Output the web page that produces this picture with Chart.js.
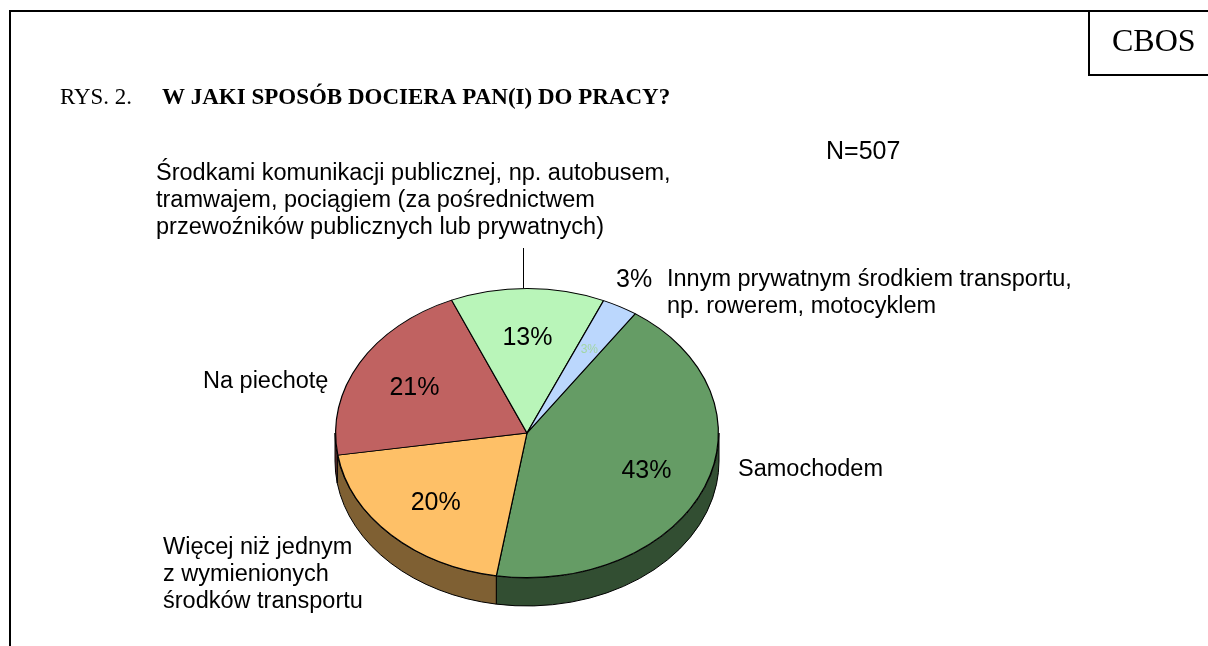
<!DOCTYPE html>
<html>
<head>
<meta charset="utf-8">
<script src="https://cdn.jsdelivr.net/npm/chart.js@4.4.1/dist/chart.umd.min.js"></script>
<style>
  html, body { margin: 0; padding: 0; background: #fff; }
  #wrap { position: relative; width: 1208px; height: 646px; }
</style>
</head>
<body>
<div id="wrap"><canvas id="chart" width="1208" height="646"></canvas></div>
<script>
// dane z rysunku
const categories = [
  'Samochodem',
  'Więcej niż jednym z wymienionych środków transportu',
  'Na piechotę',
  'Środkami komunikacji publicznej',
  'Innym prywatnym środkiem transportu'
];
const values = [43, 20, 21, 13, 3];
const valueLabels = ['43%', '20%', '21%', '13%', '3%'];
const sliceColors = ['#659c65', '#fec067', '#c06261', '#b9f5b9', '#bbd7fd'];
const sideColors = ['#324e32', '#7f6033', '#603130', '#5c7a5c', '#5e6b7e'];

const cx = 527, cy = 433, rx = 192, ry = 145, depth = 28;
const squash = ry / rx;
const labelFont = '23.5px "Liberation Sans", Arial, sans-serif';
const dy = 2; // korekta pionowa tekstu

const pie3d = {
  id: 'pie3d',
  beforeDatasetsDraw(chart) {
    const ctx = chart.ctx;
    const arcs = chart.getDatasetMeta(0).data;
    // boczna ściana (tylko przód, kąty 0..PI)
    arcs.forEach((arc, i) => {
      const a0 = Math.max(arc.startAngle, 0);
      const a1 = Math.min(arc.endAngle, Math.PI);
      const wrapA0 = Math.max(arc.startAngle - 2 * Math.PI, 0);
      const wrapA1 = Math.min(arc.endAngle - 2 * Math.PI, Math.PI);
      [[a0, a1], [wrapA0, wrapA1]].forEach(([s, e]) => {
        if (e <= s) return;
        ctx.save();
        ctx.beginPath();
        ctx.ellipse(cx, cy, rx, ry, 0, s, e, false);
        ctx.lineTo(cx + rx * Math.cos(e), cy + ry * Math.sin(e) + depth);
        ctx.ellipse(cx, cy + depth, rx, ry, 0, e, s, true);
        ctx.closePath();
        ctx.fillStyle = sideColors[i];
        ctx.fill();
        ctx.lineWidth = 1;
        ctx.strokeStyle = '#000';
        ctx.stroke();
        ctx.restore();
      });
    });
    ctx.save();
    ctx.translate(cx, cy);
    ctx.scale(1, squash);
    ctx.translate(-cx, -cy);
  },
  afterDatasetsDraw(chart) {
    const ctx = chart.ctx;
    ctx.restore();
    const arcs = chart.getDatasetMeta(0).data;
    ctx.save();
    ctx.textAlign = 'center';
    ctx.textBaseline = 'middle';
    arcs.forEach((arc, i) => {
      const mid = (arc.startAngle + arc.endAngle) / 2;
      const f = 0.67;
      const x = cx + Math.cos(mid) * rx * f;
      const y = cy + Math.sin(mid) * ry * f;
      if (values[i] < 5) {
        ctx.font = '12px "Liberation Sans", Arial, sans-serif';
        ctx.fillStyle = '#a3d6a3';
      } else {
        ctx.font = '25px "Liberation Sans", Arial, sans-serif';
        ctx.fillStyle = '#000';
      }
      ctx.fillText(valueLabels[i], x, y + dy);
    });
    ctx.restore();
  },
  afterDraw(chart) {
    const ctx = chart.ctx;
    ctx.save();
    // ramka
    ctx.strokeStyle = '#000';
    ctx.lineWidth = 2;
    ctx.beginPath();
    ctx.moveTo(10, 646);
    ctx.lineTo(10, 11);
    ctx.lineTo(1208, 11);
    ctx.stroke();
    ctx.beginPath();
    ctx.moveTo(1089, 11);
    ctx.lineTo(1089, 75);
    ctx.lineTo(1208, 75);
    ctx.stroke();

    ctx.fillStyle = '#000';
    ctx.textBaseline = 'middle';
    ctx.textAlign = 'left';
    ctx.font = '32px "Liberation Serif", "Times New Roman", serif';
    ctx.fillText('CBOS', 1112, 43);

    ctx.font = '23px "Liberation Serif", "Times New Roman", serif';
    ctx.fillText('RYS. 2.', 60, 98, 72);
    ctx.font = 'bold 23px "Liberation Serif", "Times New Roman", serif';
    ctx.fillText('W JAKI SPOSÓB DOCIERA PAN(I) DO PRACY?', 162, 98, 526);

    ctx.font = '25px "Liberation Sans", Arial, sans-serif';
    ctx.fillText('N=507', 826, 150 + dy);

    ctx.font = labelFont;
    const lines = [
      ['Środkami komunikacji publicznej, np. autobusem,', 156, 172],
      ['tramwajem, pociągiem (za pośrednictwem', 156, 199],
      ['przewoźników publicznych lub prywatnych)', 156, 226],
      ['Innym prywatnym środkiem transportu,', 667, 278],
      ['np. rowerem, motocyklem', 667, 305],
      ['Na piechotę', 203, 380],
      ['Samochodem', 738, 468],
      ['Więcej niż jednym', 163, 546],
      ['z wymienionych', 163, 573],
      ['środków transportu', 163, 600]
    ];
    lines.forEach(([t, x, y]) => ctx.fillText(t, x, y + dy));
    ctx.font = '25px "Liberation Sans", Arial, sans-serif';
    ctx.fillText('3%', 616, 278 + dy);

    // linia odniesienia
    ctx.lineWidth = 1;
    ctx.beginPath();
    ctx.moveTo(523.5, 248);
    ctx.lineTo(523.5, 288);
    ctx.stroke();
    ctx.restore();
  }
};

new Chart(document.getElementById('chart'), {
  type: 'pie',
  data: {
    labels: categories,
    datasets: [{
      data: values,
      backgroundColor: sliceColors,
      borderColor: '#000',
      borderWidth: 1.2
    }]
  },
  options: {
    responsive: false,
    animation: false,
    rotation: 34.4,
    layout: {
      padding: { left: cx - rx, right: 1208 - cx - rx, top: cy - rx, bottom: 646 - cy - rx }
    },
    plugins: {
      legend: { display: false },
      tooltip: { enabled: false }
    }
  },
  plugins: [pie3d]
});
</script>
</body>
</html>
